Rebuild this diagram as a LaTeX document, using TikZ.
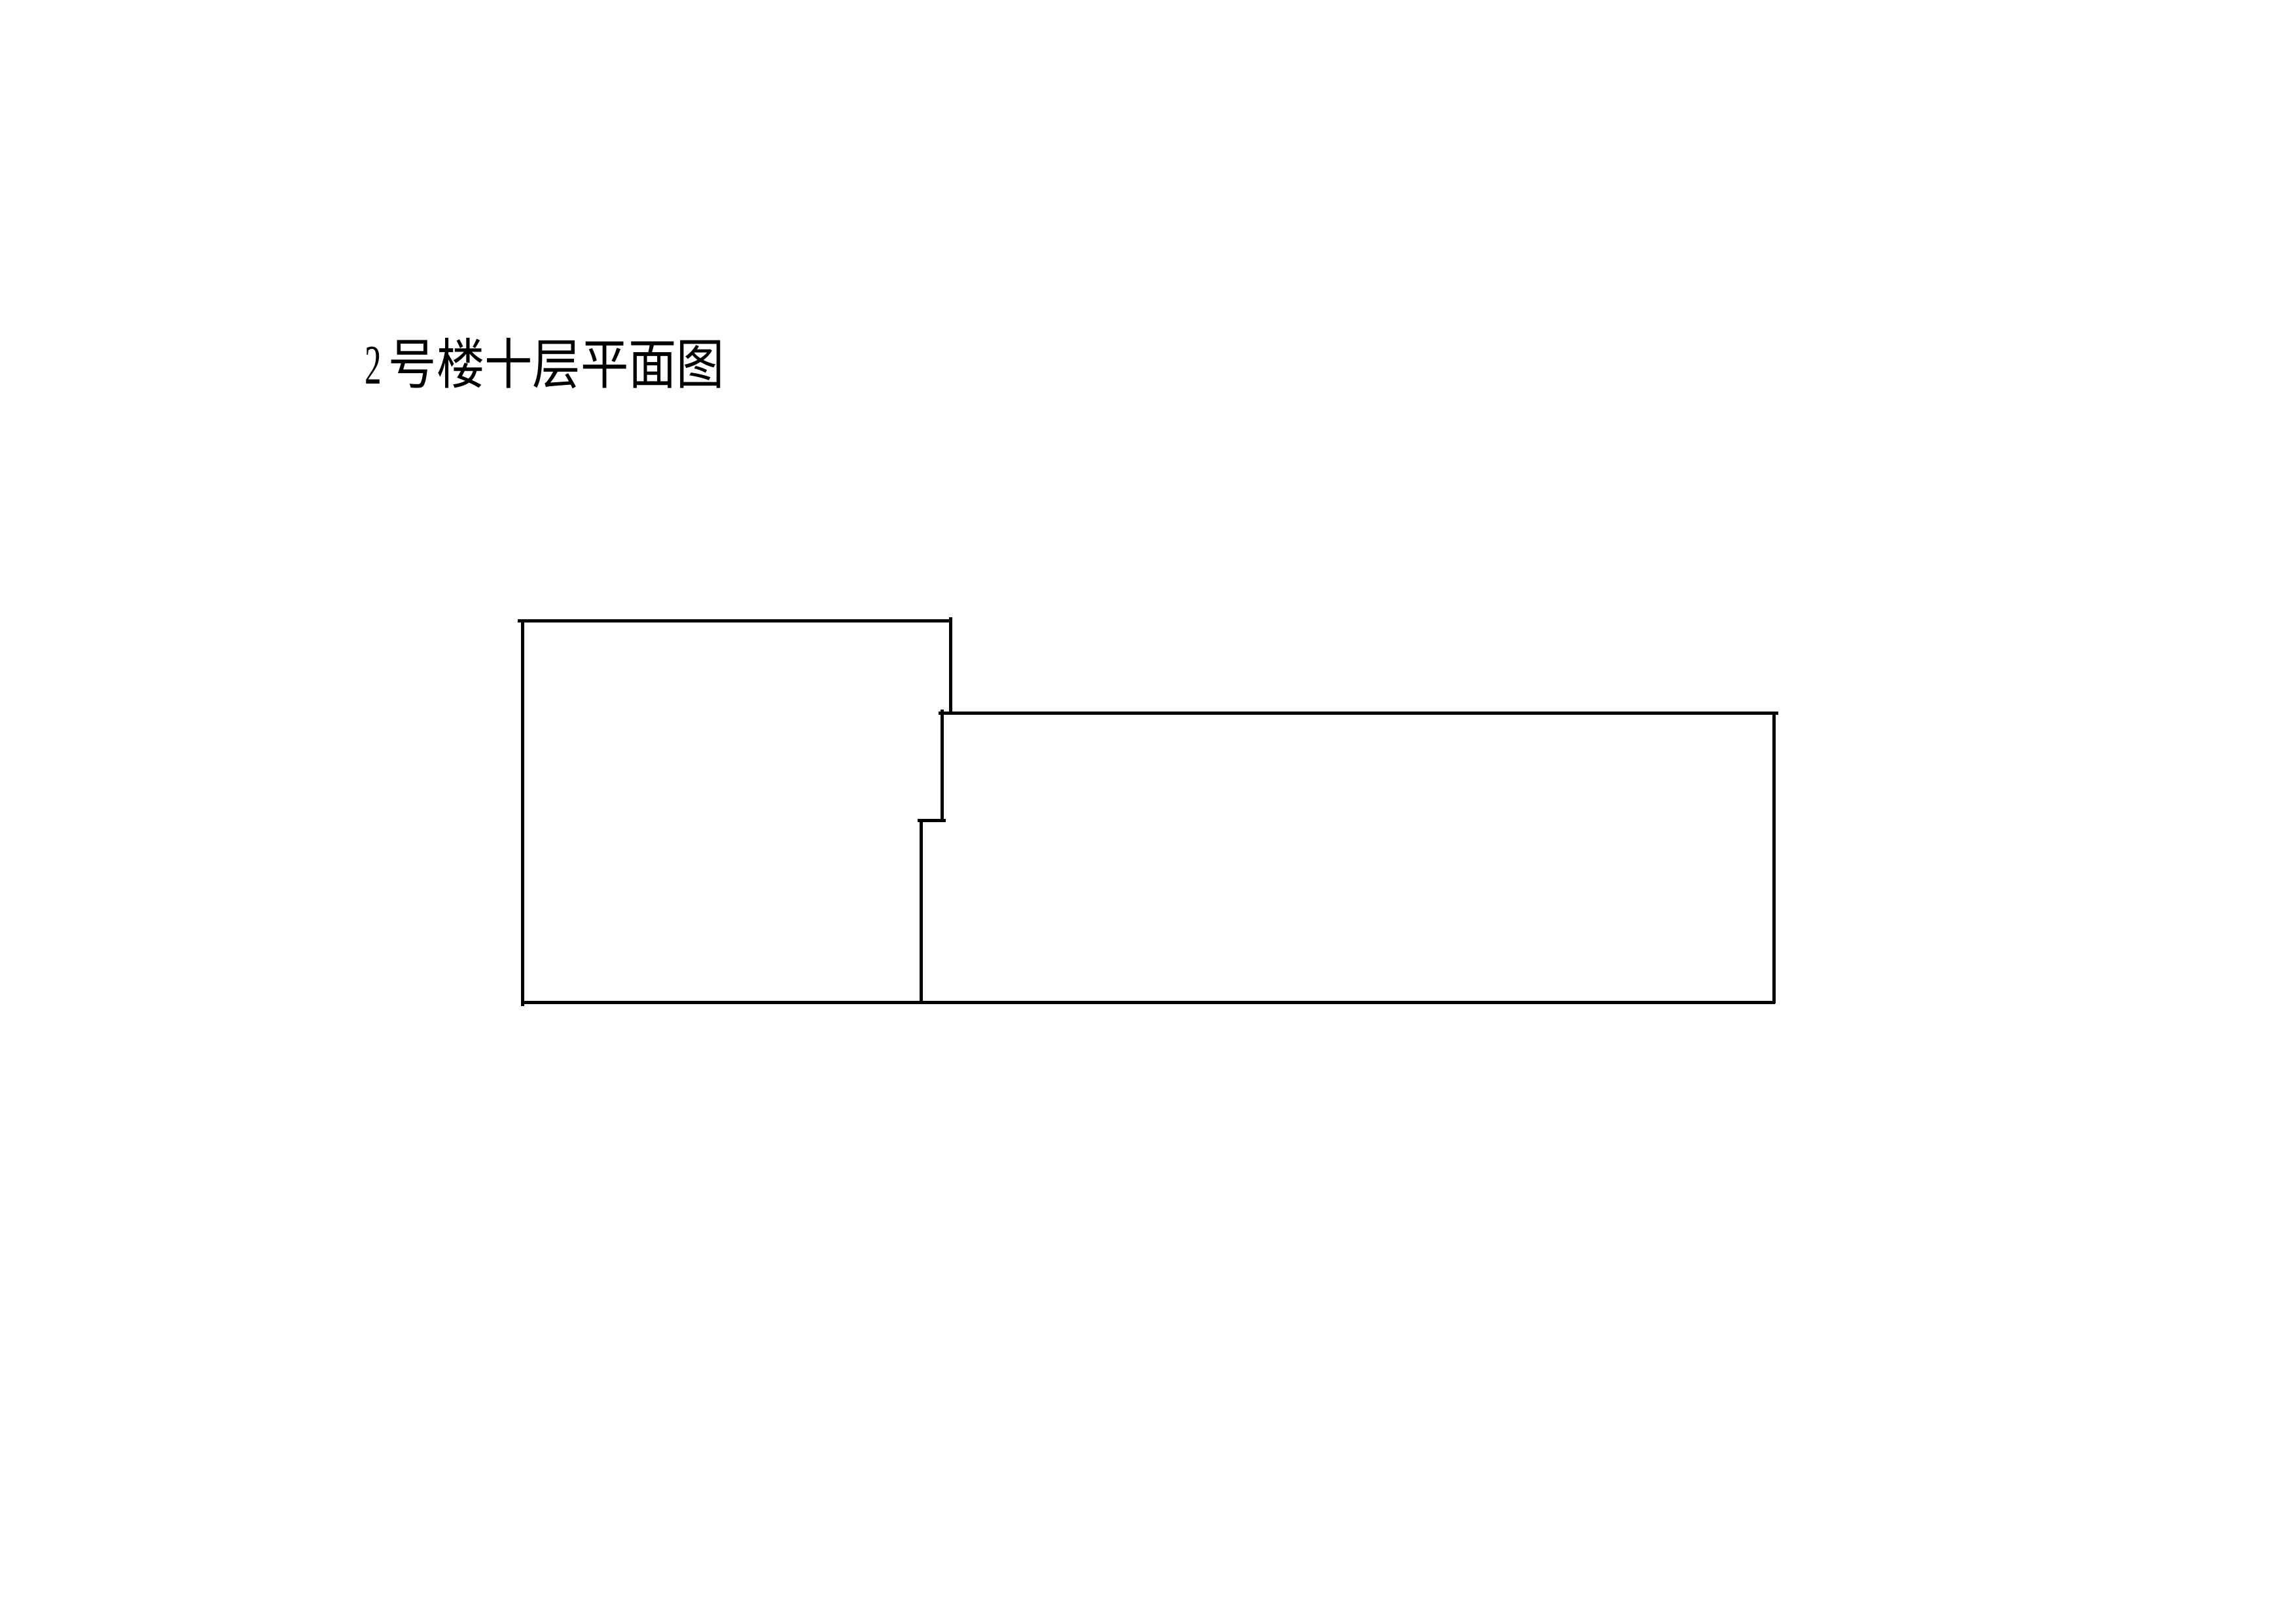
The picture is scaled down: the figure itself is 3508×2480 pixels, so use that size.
\documentclass[tikz,border=0pt]{standalone}
\usepackage{fontspec}
\newfontfamily\cjk[FakeStretch=0.88]{Noto Sans CJK SC}
\newfontfamily\digitfont[FakeStretch=0.6]{Liberation Serif}
\tikzset{
  wall/.style={draw=black,line width=1.2pt,line cap=butt},
  titletext/.style={inner sep=0pt,anchor=base west,font=\fontsize{20pt}{24pt}\selectfont}
}
\begin{document}
\begin{tikzpicture}[x=0.24pt,y=-0.24pt]
\useasboundingbox (0,0) rectangle (3508,2480);
\fill[white] (0,0) rectangle (3508,2480);
\node[titletext] (title) at (557,586) {{\digitfont\fontsize{20.5pt}{24pt}\selectfont 2}\kern2.5pt{\cjk 号楼十层平面图}};
% left wing
\draw[wall] (791,948.5) -- (1454,948.5);
\draw[wall] (798,946) -- (798,1537);
\draw[wall] (1452,943) -- (1452,1090);
% right wing
\draw[wall] (1434,1089.5) -- (2717,1089.5);
\draw[wall] (2710,1089.5) -- (2710,1533);
\draw[wall] (798,1531) -- (2712,1531);
% step between the wings
\draw[wall] (1439,1084) -- (1439,1254);
\draw[wall] (1402,1253) -- (1445,1253);
\draw[wall] (1407.5,1253) -- (1407.5,1531);
\end{tikzpicture}
\end{document}
